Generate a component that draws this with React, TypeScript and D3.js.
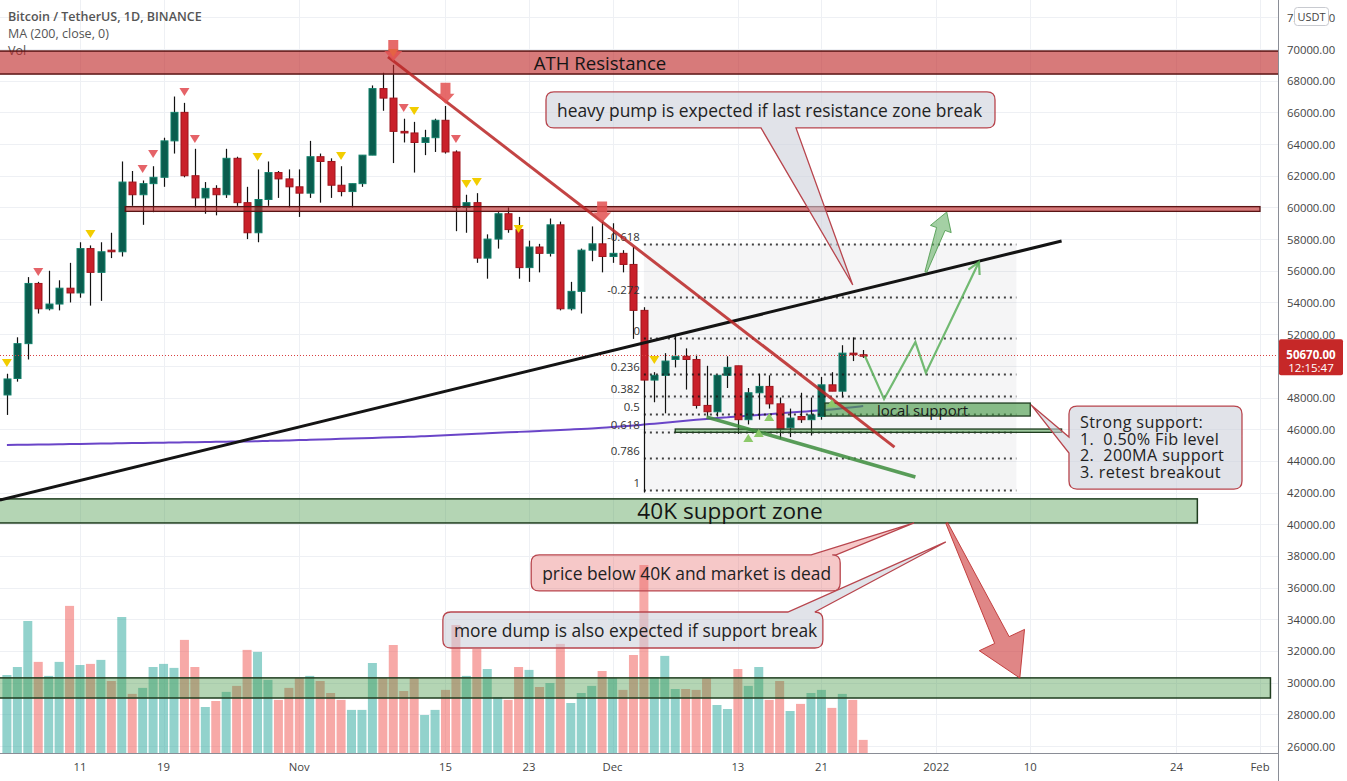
import React from "react";
import * as d3 from "d3";

// ---------- DATA ----------
const CANDLE_START = "2021-10-04";
// [open, high, low, close] in thousands of USDT, one per day from CANDLE_START
const ohlc: number[][] = [
  [48.16, 49.5, 46.9, 49.17], [49.2, 51.8, 49.0, 51.4], [51.4, 55.6, 50.4, 55.2], [55.2, 55.3, 53.3, 53.6],
  [53.6, 56.0, 53.5, 53.9], [53.9, 55.4, 53.5, 54.9], [54.9, 56.5, 54.0, 54.6], [54.6, 57.8, 54.3, 57.4],
  [57.4, 57.6, 53.8, 55.9], [55.9, 57.8, 54.1, 57.2], [57.3, 58.4, 56.8, 57.2], [57.2, 62.9, 56.9, 61.6],
  [61.6, 62.3, 60.1, 60.8], [60.8, 61.7, 58.9, 61.5], [61.5, 62.6, 59.7, 61.9], [61.9, 64.4, 61.3, 64.2],
  [64.2, 67.0, 63.4, 66.0], [66.0, 66.6, 61.9, 62.0], [62.0, 63.7, 60.0, 60.6], [60.6, 61.6, 59.6, 61.2],
  [61.2, 61.4, 59.5, 60.8], [60.8, 63.7, 60.6, 63.1], [63.1, 63.2, 60.1, 60.3], [60.3, 61.3, 58.0, 58.4],
  [58.4, 62.4, 57.8, 60.5], [60.5, 62.9, 60.1, 62.2], [62.2, 62.3, 60.6, 61.8], [61.8, 62.4, 60.0, 61.3],
  [61.3, 62.4, 59.4, 60.9], [60.9, 64.2, 60.6, 63.2], [63.2, 63.4, 60.3, 62.9], [62.9, 63.1, 60.6, 61.4],
  [61.4, 62.6, 60.7, 61.0], [61.0, 61.5, 60.0, 61.5], [61.5, 63.3, 61.3, 63.3], [63.3, 67.7, 63.3, 67.5],
  [67.5, 68.5, 66.1, 66.9], [66.9, 69.0, 62.8, 64.8], [64.8, 65.6, 64.1, 64.7], [64.7, 65.4, 62.2, 64.1],
  [64.1, 64.9, 63.3, 64.4], [64.4, 65.6, 63.5, 65.5], [65.5, 66.4, 63.4, 63.5], [63.5, 63.6, 58.5, 60.0],
  [60.0, 60.8, 58.4, 60.3], [60.3, 60.9, 56.5, 56.8], [56.8, 58.3, 55.5, 58.0], [58.0, 59.7, 57.4, 59.6],
  [59.6, 60.0, 58.4, 58.6], [58.6, 59.4, 55.5, 56.2], [56.2, 57.9, 55.3, 57.5], [57.5, 57.7, 55.9, 57.1],
  [57.1, 59.3, 56.9, 58.9], [58.9, 59.1, 53.5, 53.6], [53.6, 55.3, 53.5, 54.7], [54.7, 57.4, 53.3, 57.3],
  [57.3, 58.8, 56.6, 57.7], [57.7, 59.2, 55.9, 56.9], [56.9, 59.0, 56.5, 57.1], [57.1, 57.3, 55.9, 56.4],
  [56.4, 57.5, 51.7, 53.5], [53.5, 53.7, 42.0, 49.1], [49.1, 49.6, 47.7, 49.4], [49.4, 50.8, 47.0, 50.3],
  [50.4, 51.9, 49.9, 50.6], [50.6, 51.1, 48.5, 50.4], [50.4, 50.7, 47.3, 47.5], [47.5, 50.0, 46.8, 47.1],
  [47.1, 49.4, 46.8, 49.4], [49.4, 50.6, 48.6, 49.9], [50.0, 50.0, 45.7, 46.6], [46.6, 48.6, 46.3, 48.3],
  [48.3, 49.5, 46.6, 48.7], [48.7, 49.4, 47.3, 47.6], [47.6, 48.0, 45.4, 46.0], [46.1, 47.3, 45.5, 46.7],
  [46.8, 48.3, 46.4, 46.6], [46.6, 48.0, 45.6, 46.9], [46.8, 49.3, 46.6, 48.8], [48.8, 49.6, 48.4, 48.4],
  [48.4, 51.3, 48.0, 50.8], [50.8, 51.8, 50.3, 50.7], [50.7, 51.0, 50.5, 50.67],
];
// daily volume, thousands of BTC
const volumeK: number[] = [
  35.1, 38.7, 59.4, 41.0, 34.7, 41.0, 66.2, 39.6, 40.1, 41.9, 32.4, 61.2, 26.6, 29.3, 38.7, 40.1, 38.3, 50.9, 38.7, 20.7,
  23.4, 27.5, 30.2, 46.4, 45.5, 32.9, 23.9, 29.3, 33.8, 34.7, 32.4, 27.0, 23.9, 19.4, 19.4, 40.5, 33.8, 48.6, 27.9, 33.8,
  17.1, 19.4, 28.4, 57.6, 34.7, 46.8, 37.8, 25.2, 23.9, 38.7, 37.4, 29.7, 31.5, 49.1, 22.5, 27.0, 30.2, 36.9, 33.8, 28.4,
  44.1, 84.6, 34.2, 43.7, 28.8, 28.8, 28.4, 33.8, 21.6, 19.8, 37.8, 30.2, 38.7, 23.9, 32.4, 18.9, 22.1, 27.0, 28.4, 20.3,
  26.6, 23.9, 5.9,
];
// MA (200, close) in thousands
const ma200: number[] = [
  45.0, 45.01, 45.02, 45.03, 45.04, 45.05, 45.06, 45.07, 45.08, 45.09, 45.1, 45.11, 45.12, 45.13, 45.14, 45.15, 45.16,
  45.17, 45.18, 45.19, 45.2, 45.21, 45.22, 45.23, 45.24, 45.26, 45.27, 45.29,
  45.31, 45.33, 45.35, 45.37, 45.39, 45.41, 45.43, 45.45, 45.47, 45.49, 45.51, 45.53, 45.56, 45.59, 45.62, 45.65, 45.68,
  45.71, 45.74, 45.77, 45.8, 45.83, 45.86, 45.89, 45.92, 45.95, 45.98, 46.01, 46.05, 46.09,
  46.13, 46.18, 46.23, 46.29, 46.35, 46.41, 46.47, 46.53, 46.59, 46.65, 46.7, 46.75, 46.8, 46.85, 46.9, 46.95, 47.0,
  47.05, 47.1, 47.14, 47.19, 47.25, 47.32, 47.39, 47.46,
];
const priceTicks = [26, 28, 30, 32, 34, 36, 38, 40, 42, 44, 46, 48, 50, 52, 54, 56, 58, 60, 62, 64, 66, 68, 70, 72];
const timeTicks: [string, string][] = [
  ["2021-10-11", "11"], ["2021-10-19", "19"], ["2021-11-01", "Nov"], ["2021-11-15", "15"], ["2021-11-23", "23"],
  ["2021-12-01", "Dec"], ["2021-12-13", "13"], ["2021-12-21", "21"], ["2022-01-01", "2022"], ["2022-01-10", "10"],
  ["2022-01-24", "24"], ["2022-02-01", "Feb"],
];
const lastPrice = 50.67;
const lastPriceText = "50670.00";
const countdown = "12:15:47";
const headerLines = ["Bitcoin / TetherUS, 1D, BINANCE", "MA (200, close, 0)", "Vol"];

// signal markers: [date, price level]
const sellSignals: [string, number][] = [
  ["2021-10-07", 55.92], ["2021-10-17", 62.42], ["2021-10-18", 63.37], ["2021-10-21", 67.29], ["2021-10-22", 64.32],
  ["2021-11-11", 66.28], ["2021-11-16", 64.32],
];
const warnSignals: [string, number][] = [
  ["2021-10-04", 50.18], ["2021-10-12", 58.32], ["2021-10-28", 63.18], ["2021-11-05", 63.25], ["2021-11-10", 69.75],
  ["2021-11-12", 66.09], ["2021-11-17", 61.48], ["2021-11-18", 61.6], ["2021-11-22", 58.64], ["2021-12-05", 50.37],
];
const buySignals: [string, number][] = [
  ["2021-12-14", 45.44], ["2021-12-15", 45.76], ["2021-12-16", 46.77], ["2021-12-22", 47.65],
];
const arrowMarks: [string, number][] = [["2021-11-10", 69.25], ["2021-11-15", 66.55], ["2021-11-30", 59.05]];

// drawings (dates, prices in thousands)
const athZone = { from: "2021-09-20", to: "2022-02-10", lo: 68.42, hi: 69.87, text: "ATH Resistance" };
const res60 = { from: "2021-10-15T08:00", to: "2022-02-01", lo: 59.75, hi: 60.05 };
const zone40 = { from: "2021-09-20", to: "2022-01-26", lo: 40.08, hi: 41.6, text: "40K support zone" };
const volZone = { from: "2021-09-20", to: "2022-02-02", lo: 29.03, hi: 30.3 };
const localSupport = { from: "2021-12-21T08:00", to: "2022-01-10", lo: 46.83, hi: 47.65, text: "local support" };
const support46 = { from: "2021-12-07", to: "2022-01-13", lo: 45.8, hi: 46.01 };
const redTrend: [string, number][] = [["2021-11-09T12:00", 69.5], ["2021-12-28", 44.87]];
const blackTrend: [string, number][] = [["2021-10-03T08:00", 41.53], ["2022-01-13", 57.88]];
const greenTrend: [string, number][] = [["2021-12-10", 46.77], ["2021-12-30", 42.98]];
const fib = { from: "2021-12-04", to: "2022-01-08T16:00", high: 51.76, low: 42.15 };
const fibLevels = [-0.618, -0.272, 0, 0.236, 0.382, 0.5, 0.618, 0.786, 1];
const projection: [string, number][] = [
  ["2021-12-25T04:00", 50.62], ["2021-12-27", 47.9], ["2021-12-30", 51.5], ["2021-12-31", 49.55], ["2022-01-05T02:00", 56.55],
];
const upArrow: [string, number][] = [["2021-12-31", 55.92], ["2022-01-02", 59.71]];
const downArrow: [string, number][] = [["2022-01-02", 40.08], ["2022-01-09", 30.29]];
const calloutTexts: string[][] = [
  ["heavy pump is expected if last resistance zone break"],
  ["Strong support:", "1.  0.50% Fib level", "2.  200MA support", "3. retest breakout"],
  ["price below 40K and market is dead"],
  ["more dump is also expected if support break"],
];
const calloutAnchors: [string, number][] = [
  ["2021-11-24T15:00", 67.29], ["2022-01-13T17:00", 47.46], ["2021-11-23T05:00", 38.06], ["2021-11-14T18:00", 34.46],
];
const calloutTargets: [string, number][] = [
  ["2021-12-24", 55.1], ["2022-01-10T02:00", 47.53], ["2021-12-29T21:00", 40.08], ["2022-01-01T22:00", 38.88],
];

// ---------- RENDER ----------
const t = (s: string) => new Date(s.length === 10 ? `${s}T00:00:00Z` : `${s}:00Z`);

type P = [number, number];

function calloutPath(x: number, y: number, w: number, h: number, r: number, side: string, a: number, b: number, tp: P) {
  const [tx, ty] = tp;
  let p = `M${x + r},${y}`;
  if (side === "top") p += `L${x + a},${y}L${tx},${ty}L${x + b},${y}`;
  p += `L${x + w - r},${y}Q${x + w},${y} ${x + w},${y + r}`;
  p += `L${x + w},${y + h - r}Q${x + w},${y + h} ${x + w - r},${y + h}`;
  if (side === "bottom") p += `L${x + b},${y + h}L${tx},${ty}L${x + a},${y + h}`;
  p += `L${x + r},${y + h}Q${x},${y + h} ${x},${y + h - r}`;
  if (side === "left") p += `L${x},${y + b}L${tx},${ty}L${x},${y + a}`;
  p += `L${x},${y + r}Q${x},${y} ${x + r},${y}Z`;
  return p;
}

function arrowPath(s: P, e: P, headLen: number, headHalf: number, shaftHalf: number, tailHalf: number) {
  const dx = e[0] - s[0], dy = e[1] - s[1];
  const len = Math.hypot(dx, dy);
  const ux = dx / len, uy = dy / len;
  const nx = -uy, ny = ux;
  const bx = e[0] - ux * headLen, by = e[1] - uy * headLen;
  const pts: P[] = [
    [s[0] + nx * tailHalf, s[1] + ny * tailHalf],
    [bx + nx * shaftHalf, by + ny * shaftHalf],
    [bx + nx * headHalf, by + ny * headHalf],
    [e[0], e[1]],
    [bx - nx * headHalf, by - ny * headHalf],
    [bx - nx * shaftHalf, by - ny * shaftHalf],
    [s[0] - nx * tailHalf, s[1] - ny * tailHalf],
  ];
  return "M" + pts.map((p) => p.join(",")).join("L") + "Z";
}

function tri(cx: number, cy: number, w: number, h: number, down: boolean) {
  return down
    ? `M${cx - w / 2},${cy - h / 2}L${cx + w / 2},${cy - h / 2}L${cx},${cy + h / 2}Z`
    : `M${cx - w / 2},${cy + h / 2}L${cx + w / 2},${cy + h / 2}L${cx},${cy - h / 2}Z`;
}

export default function App() {
  const W = 1347, H = 781;
  const PX = 1278, PY = 753;
  const font = "'Open Sans', 'Noto Sans', sans-serif";
  const x = d3.scaleUtc().domain([t("2021-10-11"), t("2022-02-01")]).range([80, 1260]);
  const y = d3.scaleLinear().domain([26, 70]).range([746, 49]);
  const v = d3.scaleLinear().domain([0, 90]).range([753, 553]);
  const start = t(CANDLE_START);
  const day = (i: number) => d3.utcDay.offset(start, i);
  const pt = (d: [string, number]): P => [x(t(d[0])), y(d[1])];

  const zoneRect = (z: { from: string; to: string; lo: number; hi: number }) => ({
    x: x(t(z.from)),
    y: y(z.hi),
    width: x(t(z.to)) - x(t(z.from)),
    height: y(z.lo) - y(z.hi),
  });

  const line = d3.line<P>();
  const maLine = d3
    .line<number>()
    .x((_, i) => x(day(i)))
    .y((d) => y(d))
    .curve(d3.curveMonotoneX);

  const fibX0 = x(t(fib.from)), fibX1 = x(t(fib.to));
  const fibPrice = (l: number) => fib.high - l * (fib.high - fib.low);

  const projPts = projection.map(pt);
  const tip = projPts[projPts.length - 1];
  const prev = projPts[projPts.length - 2];
  const ang = Math.atan2(tip[1] - prev[1], tip[0] - prev[0]);
  const headA: P = [tip[0] - 13 * Math.cos(ang - 0.5), tip[1] - 13 * Math.sin(ang - 0.5)];
  const headB: P = [tip[0] - 13 * Math.cos(ang + 0.5), tip[1] - 13 * Math.sin(ang + 0.5)];

  const calloutLayout = [
    { w: 449, h: 36, side: "bottom", a: 215, b: 250, fill: "rgba(205,208,218,0.6)", fs: 17.4, lh: 0, ls: 0 },
    { w: 173, h: 83, side: "left", a: 31, b: 47, fill: "rgba(205,208,218,0.6)", fs: 16.2, lh: 16.5, ls: 0.35 },
    { w: 309, h: 36, side: "top", a: 280, b: 305, fill: "rgba(232,110,110,0.38)", fs: 17.4, lh: 0, ls: 0 },
    { w: 380, h: 36, side: "top", a: 345, b: 372, fill: "rgba(205,208,218,0.6)", fs: 17.4, lh: 0, ls: 0 },
  ];

  const green = { fill: "#0a5d4e", stroke: "#13806b" };
  const red = { fill: "#c9202a", stroke: "#a0151d" };

  return (
    <svg
      width={W}
      height={H}
      style={{ position: "absolute", left: 0, top: 0, background: "#fff", fontFamily: font }}
    >
      <defs>
        <clipPath id="plot">
          <rect x={0} y={0} width={PX} height={PY} />
        </clipPath>
      </defs>
      <rect x={0} y={0} width={W} height={H} fill="#fff" />

      {/* grid */}
      <g stroke="#eef0f4" strokeWidth={1}>
        {priceTicks.map((p) => (
          <line key={p} x1={0} x2={PX} y1={Math.round(y(p)) + 0.5} y2={Math.round(y(p)) + 0.5} />
        ))}
        {timeTicks.map(([d]) => (
          <line key={d} x1={Math.round(x(t(d))) + 0.5} x2={Math.round(x(t(d))) + 0.5} y1={0} y2={PY} />
        ))}
      </g>

      {/* header */}
      <g fill="#555" fontSize={12.5}>
        <text x={8} y={20.5} fontWeight={600}>{headerLines[0]}</text>
        <text x={8} y={37.5}>{headerLines[1]}</text>
        <text x={8} y={54.5}>{headerLines[2]}</text>
      </g>

      <g clipPath="url(#plot)">
        {/* fib background */}
        <rect
          x={fibX0}
          y={y(fibPrice(fibLevels[0]))}
          width={fibX1 - fibX0}
          height={y(fibPrice(1)) - y(fibPrice(fibLevels[0]))}
          fill="rgba(120,120,130,0.07)"
        />

        {/* volume */}
        {volumeK.map((vol, i) => {
          const [o, , , c] = ohlc[i];
          const cx = x(day(i));
          return (
            <rect
              key={i}
              x={cx - 4.5}
              y={v(vol)}
              width={9}
              height={v(0) - v(vol)}
              fill={c >= o ? "rgba(38,166,154,0.5)" : "rgba(239,83,80,0.5)"}
            />
          );
        })}

        {/* MA */}
        <path d={maLine(ma200) || ""} fill="none" stroke="#6a45c8" strokeWidth={2} />

        {/* candles */}
        {ohlc.map(([o, h, l, c], i) => {
          const cx = Math.round(x(day(i))) + 0.5;
          const up = c >= o;
          const col = up ? green : red;
          const top = y(Math.max(o, c));
          const bh = Math.max(1.5, Math.abs(y(o) - y(c)));
          return (
            <g key={i}>
              <line x1={cx} x2={cx} y1={y(h)} y2={y(l)} stroke="#111" strokeWidth={1.2} />
              <rect x={cx - 3.5} y={top} width={7} height={bh} fill={col.fill} stroke={col.stroke} strokeWidth={1} />
            </g>
          );
        })}

        {/* current price line */}
        <line
          x1={0}
          x2={PX}
          y1={Math.round(y(lastPrice)) + 0.5}
          y2={Math.round(y(lastPrice)) + 0.5}
          stroke="#d84040"
          strokeWidth={1}
          strokeDasharray="1 2"
        />

        {/* zones */}
        <rect {...zoneRect(volZone)} fill="rgba(76,155,76,0.42)" stroke="#1f3d1f" strokeWidth={1.5} />
        <rect {...zoneRect(zone40)} fill="rgba(76,155,76,0.42)" stroke="#1f3d1f" strokeWidth={1.5} />
        <text
          x={730}
          y={(y(zone40.hi) + y(zone40.lo)) / 2}
          dominantBaseline="central"
          textAnchor="middle"
          fontSize={22.6}
          fill="#151515"
        >
          {zone40.text}
        </text>
        <rect {...zoneRect(athZone)} fill="rgba(190,40,40,0.62)" stroke="#5a1414" strokeWidth={1.5} />
        <text
          x={600}
          y={(y(athZone.hi) + y(athZone.lo)) / 2}
          dominantBaseline="central"
          textAnchor="middle"
          fontSize={18.6}
          fill="#151515"
        >
          {athZone.text}
        </text>
        <rect {...zoneRect(res60)} fill="rgba(190,40,40,0.62)" stroke="#5a1414" strokeWidth={1.3} />

        {/* fib lines */}
        {fibLevels.map((l) => {
          const yy = Math.round(y(fibPrice(l))) + 0.5;
          return (
            <g key={l}>
              <line x1={fibX0} x2={fibX1} y1={yy} y2={yy} stroke="rgba(20,20,20,0.8)" strokeWidth={2} strokeDasharray="2 4" />
              <text x={fibX0 - 4} y={yy - 8} textAnchor="end" dominantBaseline="central" fontSize={11.4} fill="#333">
                {String(l)}
              </text>
            </g>
          );
        })}

        <rect {...zoneRect(support46)} fill="rgba(76,155,76,0.55)" stroke="#1f3d1f" strokeWidth={1.3} />
        <rect {...zoneRect(localSupport)} fill="rgba(76,155,76,0.65)" stroke="#1f3d1f" strokeWidth={1.3} />
        <text
          x={877}
          y={(y(localSupport.hi) + y(localSupport.lo)) / 2}
          dominantBaseline="central"
          fontSize={15}
          fill="#1a1a1a"
        >
          {localSupport.text}
        </text>

        {/* trend lines */}
        <path d={line(blackTrend.map(pt)) || ""} stroke="#141414" strokeWidth={3} fill="none" />
        <path d={line(redTrend.map(pt)) || ""} stroke="rgba(185,35,35,0.85)" strokeWidth={3} fill="none" />
        <path d={line(greenTrend.map(pt)) || ""} stroke="rgba(60,140,60,0.85)" strokeWidth={3.5} fill="none" />

        {/* projection path */}
        <path d={line(projPts) || ""} stroke="rgba(90,175,90,0.85)" strokeWidth={2.2} fill="none" />
        <path d={line([headA, tip, headB]) || ""} stroke="rgba(90,175,90,0.85)" strokeWidth={2.2} fill="none" />

        {/* arrows */}
        <path
          d={arrowPath(pt(upArrow[0]), pt(upArrow[1]), 18, 11, 4.5, 1)}
          fill="rgba(90,170,90,0.55)"
          stroke="rgba(70,150,70,0.8)"
          strokeWidth={1}
        />
        <path
          d={arrowPath(pt(downArrow[0]), pt(downArrow[1]), 42, 25, 8, 1)}
          fill="rgba(205,60,60,0.62)"
          stroke="rgba(190,50,50,0.9)"
          strokeWidth={1}
        />

        {/* signal markers */}
        {sellSignals.map((s, i) => {
          const [cx, cy] = pt(s);
          return <path key={"s" + i} d={tri(cx, cy, 10, 8, true)} fill="rgba(224,72,78,0.85)" />;
        })}
        {warnSignals.map((s, i) => {
          const [cx, cy] = pt(s);
          return <path key={"w" + i} d={tri(cx, cy, 10, 8, true)} fill="#f2cd00" />;
        })}
        {buySignals.map((s, i) => {
          const [cx, cy] = pt(s);
          return <path key={"b" + i} d={tri(cx, cy, 10, 8, false)} fill="#8cc96a" />;
        })}
        {arrowMarks.map((s, i) => {
          const [cx, cy] = pt(s);
          return (
            <path
              key={"a" + i}
              d={`M${cx - 5},${cy - 21}L${cx + 5},${cy - 21}L${cx + 5},${cy - 10}L${cx + 9},${cy - 10}L${cx},${cy}L${cx - 9},${cy - 10}L${cx - 5},${cy - 10}Z`}
              fill="rgba(226,80,80,0.85)"
            />
          );
        })}

        {/* callouts */}
        {calloutTexts.map((lines, i) => {
          const L = calloutLayout[i];
          const [bx, by] = pt(calloutAnchors[i]);
          const tp = pt(calloutTargets[i]);
          return (
            <g key={"c" + i}>
              <path
                d={calloutPath(bx, by, L.w, L.h, 8, L.side, L.a, L.b, tp)}
                fill={L.fill}
                stroke="#b8454d"
                strokeWidth={1.3}
              />
              {lines.map((ln, j) => (
                <text
                  key={j}
                  x={bx + 11}
                  y={lines.length === 1 ? by + L.h / 2 : by + 16 + j * L.lh}
                  dominantBaseline="central"
                  fontSize={L.fs}
                  letterSpacing={L.ls}
                  fill="#222"
                  style={{ whiteSpace: "pre" }}
                >
                  {ln}
                </text>
              ))}
            </g>
          );
        })}
      </g>

      {/* axes */}
      <line x1={PX + 0.5} x2={PX + 0.5} y1={0} y2={H} stroke="#8a8d96" strokeWidth={1} />
      <line x1={0} x2={PX} y1={PY + 0.5} y2={PY + 0.5} stroke="#8a8d96" strokeWidth={1} />
      <g fontSize={11.3} fill="#444">
        {priceTicks.map((p) => (
          <text key={p} x={1287} y={y(p)} dominantBaseline="central">
            {(p * 1000).toFixed(2)}
          </text>
        ))}
        {timeTicks.map(([d, lab]) => (
          <text key={d} x={x(t(d))} y={766} textAnchor="middle" dominantBaseline="central">
            {lab}
          </text>
        ))}
      </g>
      {/* USDT badge */}
      <rect x={1294.5} y={7.5} width={34} height={18} rx={3} fill="#fff" stroke="#c8cad0" />
      <text x={1311.5} y={16.5} textAnchor="middle" dominantBaseline="central" fontSize={11} fill="#444">
        USDT
      </text>
      {/* last price label */}
      <rect x={1279} y={y(lastPrice) - 16} width={64} height={36} rx={2} fill="#c62828" />
      <text x={1311} y={y(lastPrice) - 1} textAnchor="middle" dominantBaseline="central" fontSize={11.5} fontWeight={700} fill="#fff">
        {lastPriceText}
      </text>
      <text x={1311} y={y(lastPrice) + 12} textAnchor="middle" dominantBaseline="central" fontSize={11.5} fill="#fff">
        {countdown}
      </text>
    </svg>
  );
}
